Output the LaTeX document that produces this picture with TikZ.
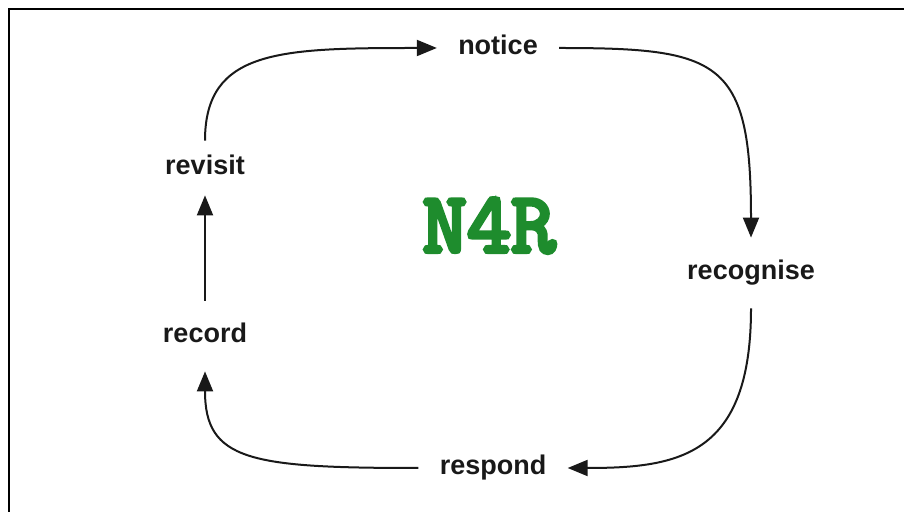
\documentclass[tikz,border=0pt]{standalone}
\usepackage{fontspec}
\setmainfont{Liberation Sans}
\newfontfamily\titlefont[FakeBold=5]{Latin Modern Mono}
\usetikzlibrary{arrows.meta,positioning}
\definecolor{titlegreen}{RGB}{30,140,45}
\definecolor{inkgray}{RGB}{25,25,25}

\begin{document}
\begin{tikzpicture}[x=0.5pt,y=-0.5pt,
	lbl/.style={anchor=base,inner xsep=10.5pt,inner ysep=11pt,text height=10pt,text depth=3pt,
		font=\fontsize{13.5}{16}\selectfont\bfseries,text=inkgray},
	flow/.style={line width=1pt,draw=inkgray,-{Triangle[length=10pt,width=8pt]}}]
	\useasboundingbox (0,0) rectangle (904,512);
	\draw[line width=1.2pt] (9,512) -- (9,9) -- (904,9);

	\node[lbl] (notice) at (498,55) {notice};
	\node[lbl] (recognise) at (751,280) {recognise};
	\node[lbl] (respond) at (493,475) {respond};
	\node[lbl] (record) at (205,343) {record};
	\node[lbl,inner ysep=7pt] (revisit) at (205,175) {revisit};
	\node[anchor=base,text=titlegreen,font=\titlefont\fontsize{43}{48}\selectfont] (title) at (489,252) {N4R};

	\draw[flow] (revisit.north) .. controls +(0,-91) and +(-157,0) .. (notice.west);
	\draw[flow] (notice.east) .. controls +(161,0) and +(0,-178) .. (recognise.north);
	\draw[flow] (recognise.south) .. controls +(0,147) and +(112,0) .. (respond.east);
	\draw[flow] (respond.west) .. controls +(-169,0) and +(0,89) .. (record.south);
	\draw[flow] (record.north) -- (revisit.south);
\end{tikzpicture}
\end{document}
